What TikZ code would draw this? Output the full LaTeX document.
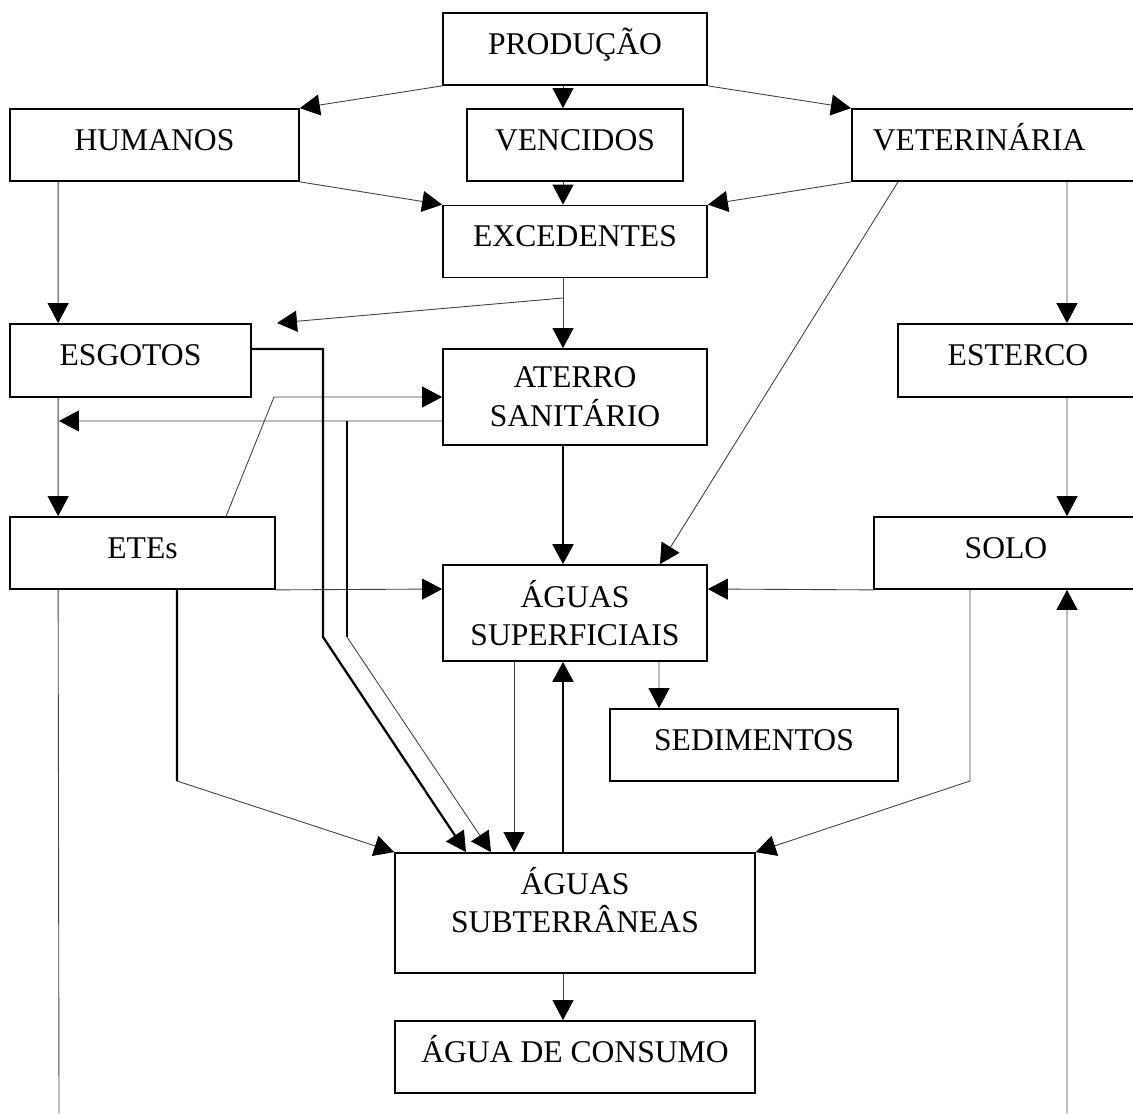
\documentclass[tikz,border=0pt]{standalone}
\usepackage{fontspec}
\setmainfont{Liberation Serif}
\usetikzlibrary{arrows.meta}

\begin{document}
\begin{tikzpicture}[
        x=0.02cm, y=-0.02cm,
        >={Triangle[length=0.4cm, width=0.42cm, color=black]},
        box/.style={draw, line width=1pt, inner sep=0pt, minimum height=1.44cm, text height=0.44cm, text depth=0.24cm, font=\fontsize{18pt}{22pt}\selectfont},
        tallbox/.style={draw, line width=1pt, inner sep=0pt, align=center, font=\fontsize{18pt}{22pt}\selectfont},
        plain/.style={inner sep=0pt, align=center, font=\fontsize{18pt}{22pt}\selectfont},
        fio/.style={line width=0.5pt, black!75},
        grosso/.style={line width=1.3pt, black}
    ]
    \useasboundingbox (0,0) rectangle (1133,1113);

    % caixas
    \node[box, minimum width=5.28cm] (prod) at (575,49) {PRODUÇÃO};
    \node[box, minimum width=5.78cm] (hum) at (154.5,145) {HUMANOS};
    \node[box, minimum width=4.32cm] (venc) at (575,145) {VENCIDOS};
    \node[box, anchor=west, text width=5.4cm, inner xsep=0.42cm, align=left] (vet) at (851,145) {VETERINÁRIA};
    \node[box, minimum width=5.28cm] (exc) at (575,241.5) {EXCEDENTES};
    \node[box, minimum width=4.82cm, minimum height=1.46cm] (esg) at (130.5,360.5) {ESGOTOS};
    \node[tallbox, minimum width=5.28cm, minimum height=1.92cm] (ater) at (575,397) {ATERRO\\SANITÁRIO};
    \node[box, minimum width=4.8cm, minimum height=1.46cm] (est) at (1018,360.5) {ESTERCO};
    \node[box, minimum width=5.3cm] (etes) at (142.5,553) {ETEs};
    \node[box, minimum width=5.28cm] (solo) at (1006,553) {SOLO};
    \node[tallbox, minimum width=5.28cm, minimum height=1.92cm] (sup) at (575,613) {ÁGUAS\\SUPERFICIAIS};
    \node[box, minimum width=5.76cm] (sed) at (754,745) {SEDIMENTOS};
    \node[tallbox, minimum width=7.2cm, minimum height=2.4cm] (sub) at (575,913) {};
    \node[plain] (sub-txt) at (575,900) {ÁGUAS\\SUBTERRÂNEAS};
    \node[box, minimum width=7.2cm] (cons) at (575,1057) {ÁGUA DE CONSUMO};

    % pontos livres e dobras
    \coordinate (exc-tap) at (563,298);
    \coordinate (esg-tip) at (277,323);
    \coordinate (esg-line) at (59,421);
    \coordinate (etes-up) at (274,397);
    \coordinate (esg-b1) at (323,349);
    \coordinate (esg-b2) at (323,637);
    \coordinate (ater-tap) at (347,421);
    \coordinate (ater-b) at (347,637);
    \coordinate (etes-b) at (177,781);
    \coordinate (solo-b) at (970,781);
    \coordinate (left-end) at (59,1113);
    \coordinate (right-end) at (1067,1113);

    % topo
    \draw[fio, ->] (prod.south west) -- (hum.north east);
    \draw[fio, ->] ([xshift=-0.24cm]prod.south) -- ([xshift=-0.24cm]venc.north);
    \draw[fio, ->] (prod.south east) -- (vet.north west);
    \draw[fio, ->] (hum.south east) -- (exc.north west);
    \draw[fio, ->] ([xshift=-0.24cm]venc.south) -- ([xshift=-0.24cm]exc.north);
    \draw[fio, ->] (vet.south west) -- (exc.north east);
    \draw[fio, ->] ([xshift=-0.24cm]exc.south) -- ([xshift=-0.24cm]ater.north);
    \draw[fio, ->] (exc-tap) -- (esg-tip);

    % lado esquerdo
    \draw[fio, ->] ([xshift=0.98cm]hum.south west) -- ([xshift=0.98cm]esg.north west);
    \draw[fio, ->] ([xshift=0.98cm]esg.south west) -- ([xshift=0.98cm]etes.north west);
    \draw[fio] ([xshift=0.98cm]etes.south west) -- (left-end);
    \draw[fio, ->] ([yshift=-0.48cm]ater.west) -- (esg-line);
    \draw[fio, ->] ([xshift=4.34cm]etes.north west) -- (etes-up) -- (ater.west);
    \draw[fio, ->] (etes.south east) -- ([yshift=0.48cm]sup.west);
    \draw[grosso, ->] ([yshift=0.23cm]esg.east) -- (esg-b1) -- (esg-b2) -- ([xshift=-2.18cm]sub.north);
    \draw[grosso] (ater-tap) -- (ater-b);
    \draw[fio, ->] (ater-b) -- ([xshift=-1.68cm]sub.north);
    \draw[grosso] ([xshift=0.69cm]etes.south) -- (etes-b);
    \draw[fio, ->] (etes-b) -- (sub.north west);

    % lado direito
    \draw[fio, ->] ([xshift=0.94cm]vet.south west) -- ([xshift=1.7cm]sup.north);
    \draw[fio, ->] ([xshift=4.32cm]vet.south west) -- ([xshift=0.98cm]est.north);
    \draw[fio, ->] ([xshift=0.98cm]est.south) -- ([xshift=1.22cm]solo.north);
    \draw[fio, ->] (solo.south west) -- ([yshift=0.48cm]sup.east);
    \draw[fio, ->] ([xshift=-0.72cm]solo.south) -- (solo-b) -- (sub.north east);
    \draw[fio, ->] (right-end) -- ([xshift=1.22cm]solo.south);

    % centro
    \draw[grosso, ->] ([xshift=-0.24cm]ater.south) -- ([xshift=-0.24cm]sup.north);
    \draw[fio, ->] ([xshift=-1.22cm]sup.south) -- ([xshift=-1.22cm]sub.north);
    \draw[grosso, ->] ([xshift=-0.24cm]sub.north) -- ([xshift=-0.24cm]sup.south);
    \draw[fio, ->] ([xshift=1.68cm]sup.south) -- ([xshift=-1.9cm]sed.north);
    \draw[fio, ->] ([xshift=-0.24cm]sub.south) -- ([xshift=-0.24cm]cons.north);
\end{tikzpicture}
\end{document}
